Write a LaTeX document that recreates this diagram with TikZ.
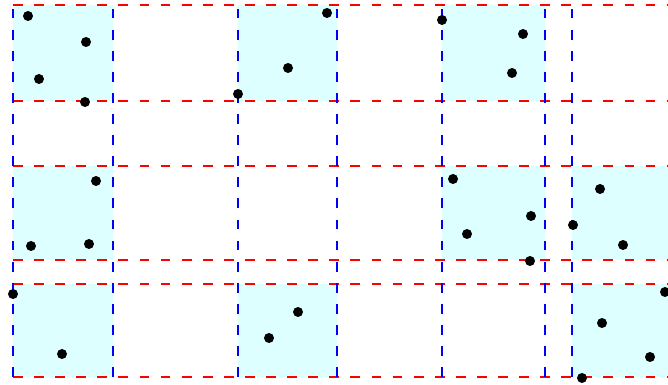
\documentclass[tikz,border=0pt]{standalone}
\usepackage{tikz}
\definecolor{cellcyan}{RGB}{221,255,255}
\begin{document}
\begin{tikzpicture}[
  cell/.style={fill=cellcyan},
  hline/.style={red,line width=0.4pt,dash pattern=on 2.8pt off 3.2pt},
  vline/.style={blue,line width=0.4pt,dash pattern=on 2.8pt off 3.2pt},
  pt/.style={fill=black}]
  \useasboundingbox (0,0) rectangle (6.68,3.85);
  % filled cells
  \foreach \xa/\ya/\xb/\yb in {0.13/2.84/1.13/3.80, 2.38/2.84/3.37/3.80, 4.42/2.84/5.45/3.80,
      0.13/1.25/1.13/2.19, 4.42/1.25/5.45/2.19, 5.72/1.25/6.68/2.19,
      0.13/0.08/1.13/1.01, 2.38/0.08/3.37/1.01, 5.72/0.08/6.68/1.01}
    \fill[cell] (\xa,\ya) rectangle (\xb,\yb);
  % grid lines
  \foreach \y in {3.80,2.84,2.19,1.25,1.01,0.08}
    \draw[hline] (0.13,\y) -- (6.68,\y);
  \foreach \x in {0.13,1.13,2.38,3.37,4.42,5.45,5.72}
    \draw[vline] (\x,0.08) -- (\x,3.80);
  % points
  \foreach \x/\y in {0.28/3.69, 0.86/3.43, 0.39/3.06, 0.85/2.83,
      3.27/3.72, 2.88/3.17, 2.38/2.91,
      4.42/3.65, 5.23/3.51, 5.12/3.12,
      0.96/2.04, 0.31/1.39, 0.89/1.41,
      4.53/2.06, 5.31/1.69, 4.67/1.51, 5.30/1.24,
      6.00/1.96, 5.73/1.60, 6.23/1.40,
      6.65/0.93, 6.02/0.62, 6.50/0.28, 5.82/0.07,
      0.13/0.91, 0.62/0.31, 2.98/0.73, 2.69/0.47}
    \fill[pt] (\x,\y) circle (0.05);
\end{tikzpicture}
\end{document}
